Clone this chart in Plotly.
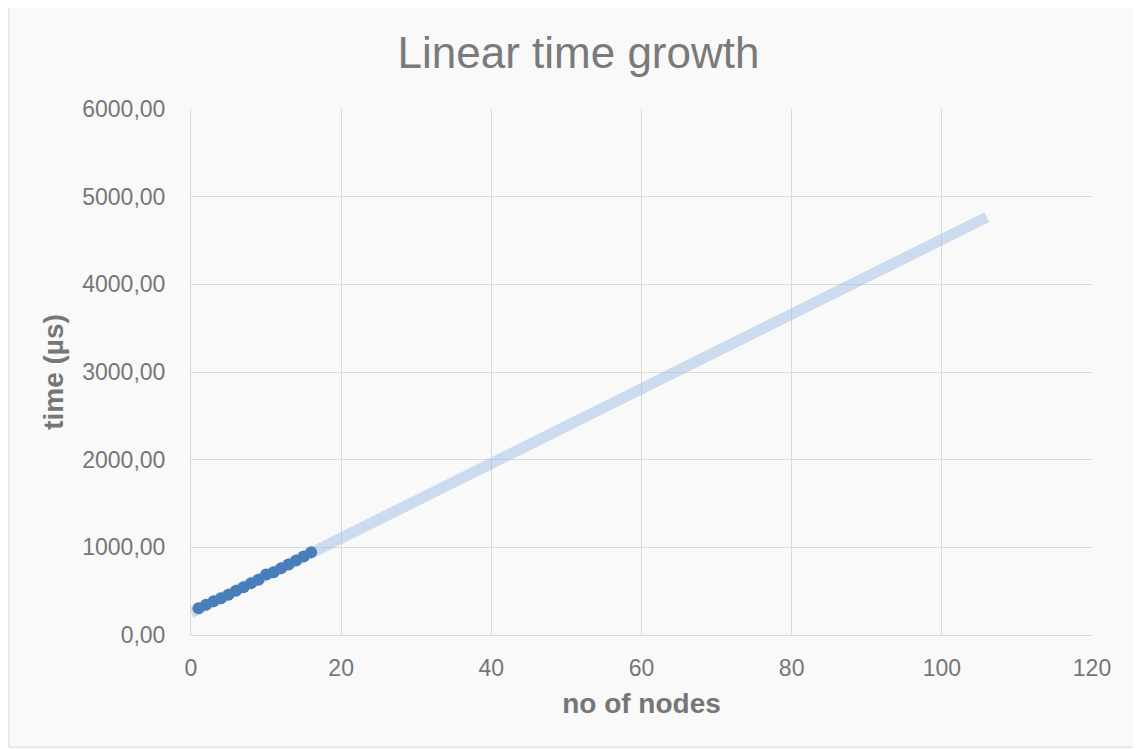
import numpy as np
import plotly.graph_objects as go

nodes = list(range(1, 17))
times = [305, 345, 385, 420, 460, 505, 545, 590, 630, 690, 715, 760, 805, 850, 895, 945]
x_ticks = [0, 20, 40, 60, 80, 100, 120]
y_ticks = [0, 1000, 2000, 3000, 4000, 5000, 6000]
y_tick_labels = ["0,00", "1000,00", "2000,00", "3000,00", "4000,00", "5000,00", "6000,00"]
trend_start, trend_end = 0, 106

slope, intercept = np.polyfit(nodes, times, 1)
tx = [trend_start, trend_end]
ty = [intercept + slope * v for v in tx]

# page body has an 8px margin; figure coordinates = reference pixel - 8
OFF = 8
W, H = 1141, 749
L, R, T, B = 191 - OFF, W - (1092 - OFF), 109 - OFF, H - (635 - OFF)
pw, ph = W - L - R, H - T - B

def px(x):
    return (x - OFF - L) / pw

def py(y):
    return (H - B - (y - OFF)) / ph

fig = go.Figure()
fig.add_trace(go.Scatter(x=tx, y=ty, mode="lines",
                         line=dict(color="rgba(160,190,225,0.5)", width=11),
                         hoverinfo="skip", showlegend=False))
fig.add_trace(go.Scatter(x=nodes, y=times, mode="markers",
                         marker=dict(color="#4a7ebb", size=12),
                         showlegend=False))

font = "Liberation Sans, Arial, sans-serif"
fig.update_layout(
    width=W, height=H,
    margin=dict(l=L, r=R, t=T, b=B),
    paper_bgcolor="#f9f9f9",
    plot_bgcolor="rgba(0,0,0,0)",
    font=dict(family=font, color="#767676"),
    title=dict(text="Linear time growth", x=0.5, xanchor="center",
               y=1 - (53 - OFF) / H, yanchor="middle",
               font=dict(size=44, color="#7a7a7a", family=font)),
    xaxis=dict(range=[0, 120], tickvals=x_ticks, showgrid=True,
               gridcolor="#d9d9d9", gridwidth=1, zeroline=False,
               showline=True, linecolor="#d9d9d9", linewidth=1,
               tickfont=dict(size=23, color="#767676"),
               ticks="", ticklabelstandoff=12,
               title=dict(text="<b>no of nodes</b>", standoff=13,
                          font=dict(size=28, color="#767676"))),
    yaxis=dict(range=[0, 6000], tickvals=y_ticks, ticktext=y_tick_labels,
               showgrid=True, gridcolor="#d9d9d9", gridwidth=1, zeroline=False,
               showline=True, linecolor="#d9d9d9", linewidth=1,
               tickfont=dict(size=23, color="#767676"),
               ticks="", ticklabelstandoff=20,
               title=dict(text="<b>time (µs)</b>", standoff=10,
                          font=dict(size=28, color="#767676"))),
)
fig.add_shape(type="rect", xref="paper", yref="paper",
              x0=px(9), x1=px(1138), y0=py(747), y1=py(6),
              line=dict(color="#d9d9d9", width=1), layer="below")
fig.write_html("out.html")
